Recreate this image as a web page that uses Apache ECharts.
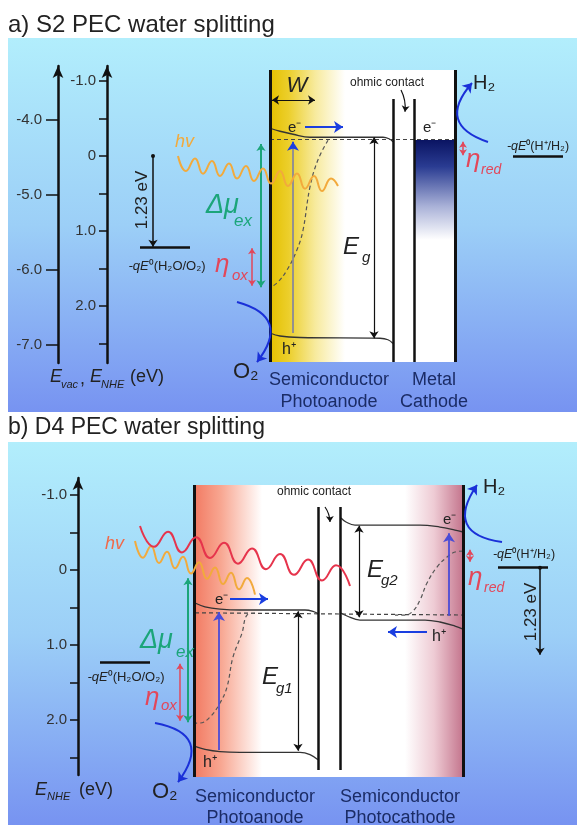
<!DOCTYPE html>
<html><head><meta charset="utf-8">
<script src="https://cdn.jsdelivr.net/npm/echarts@6/dist/echarts.min.js"></script>
<style>html,body{margin:0;padding:0;background:#fff}#c{width:577px;height:825px}</style>
</head><body><div id="c"></div>
<script>
// ===== Panel a (S2): energies in eV vs NHE; x = position along the diagram =====
const aNheTicks = [-1, -0.5, 0, 0.5, 1, 1.5, 2, 2.5];
const aNheLabels = [-1, 0, 1, 2];
const aVacLabels = [-4, -5, -6, -7];
const aBox = [-1.147, 2.747];          // top / bottom of device box
const aOhmicTop = -0.76;
const aMetalTop = -0.213;
const aCBx = [270, 280, 293, 310, 383, 389, 393];
const aCBe = [-0.37, -0.33, -0.29, -0.25, -0.25, -0.23, -0.19];
const aVBx = [270, 280, 300, 380, 388, 393];
const aVBe = [2.36, 2.40, 2.42, 2.43, 2.45, 2.50];
const aEF = -0.22;
const aQFx = [328, 318, 310, 303, 297, 287, 278, 271];
const aQFe = [-0.21, 0.05, 0.41, 0.99, 1.25, 1.52, 1.68, 1.75];
const aH2O = 1.21, aHH2 = 0.0;
const aEg = [-0.25, 2.43];
const aDmu = [-0.16, 1.75];
const aEtaOx = [1.23, 1.73];
const aEtaRed = [-0.19, -0.01];
const aGap = [0.0, 1.21];
const aExc = [2.36, -0.15];
const aWaveX = [178,186,195,203,212,220,229,237,246,254,263,271,280,288,297,305,314,322,331,338];
const aWaveE = [0.00,0.20,0.033,0.236,0.067,0.267,0.099,0.301,0.132,0.333,0.165,0.368,0.199,0.40,0.232,0.435,0.265,0.467,0.299,0.40];

// ===== Panel b (D4) =====
const bNheTicks = [-1, -0.5, 0, 0.5, 1, 1.5, 2, 2.5];
const bNheLabels = [-1, 0, 1, 2];
const bBox = [-1.133, 2.76];
const bOhmic = [-0.84, 2.667];
const bCB1x = [195, 205, 220, 240, 305, 313, 318];
const bCB1e = [0.44, 0.49, 0.52, 0.533, 0.533, 0.55, 0.58];
const bVB1x = [195, 205, 220, 240, 300, 310, 318];
const bVB1e = [2.35, 2.39, 2.42, 2.43, 2.43, 2.46, 2.53];
const bCB2x = [341, 346, 355, 420, 440, 455, 463];
const bCB2e = [-0.693, -0.64, -0.60, -0.60, -0.573, -0.533, -0.507];
const bVB2x = [341, 347, 360, 425, 440, 455, 463];
const bVB2e = [0.573, 0.613, 0.667, 0.667, 0.693, 0.747, 0.787];
const bEF = [0.57, 0.60];
const bQFpX = [255, 247, 242, 233, 227, 220, 210, 200, 196];
const bQFpE = [0.573, 0.60, 0.84, 1.16, 1.56, 1.773, 1.96, 2.04, 2.04];
const bQFnX = [463, 455, 447, 437, 427, 420, 413, 405, 395];
const bQFnE = [-0.253, -0.24, -0.173, -0.04, 0.173, 0.40, 0.547, 0.60, 0.60];
const bH2O = 1.227, bHH2 = -0.04;
const bEg1 = [0.55, 2.41];
const bEg2 = [-0.59, 0.63];
const bDmu = [0.11, 2.03];
const bEtaOx = [1.25, 2.01];
const bEtaRed = [-0.27, -0.11];
const bGap = [-0.03, 1.13];
const bExc1 = [2.40, 0.56];
const bExc2 = [0.61, -0.49];
const bRedX = [140,154,168,182,196,210,224,238,252,266,280,294,308,322,336,350];
const bRedE = [-0.587,-0.309,-0.512,-0.235,-0.437,-0.16,-0.363,-0.085,-0.288,-0.011,-0.213,0.064,-0.139,0.139,-0.064,0.213];
const bOrX = [135,143,151,159,167,175,183,191,199,207,215,223,231,239,247,255];
const bOrE = [-0.387,-0.165,-0.316,-0.095,-0.245,-0.024,-0.176,0.047,-0.105,0.117,-0.035,0.187,0.035,0.257,0.105,0.328];

const FF = '"Liberation Sans", Arial, sans-serif';
const BLUE = '#1a3ee0', GREEN = '#1ba57a', RED = '#e2475a', ORANGE = '#f2aa3c', WRED = '#e6344c', PURP = '#4b4bd6';

function pts(xs, es) { return xs.map((x, i) => [x, es[i]]); }
function yIdx(g) { return g === 0 ? 0 : 2; }
function curve(g, xs, es, color, width, dashed, smooth, z) {
  return { type: 'line', xAxisIndex: g, yAxisIndex: yIdx(g), data: pts(xs, es), symbol: 'none', smooth: smooth,
    clip: false, silent: true, z: z || 4, lineStyle: { color, width, type: dashed ? [4, 3] : 'solid' } };
}
function segs(g, list, color, width, sym, size, curveness, z) {
  return { type: 'lines', coordinateSystem: 'cartesian2d', xAxisIndex: g, yAxisIndex: yIdx(g),
    data: list.map(c => ({ coords: c })), symbol: sym || 'none', symbolSize: size || 8, clip: false, silent: true,
    z: z || 5, lineStyle: { color, width, opacity: 1, curveness: curveness || 0 } };
}
function rect(g, r, fill, z) {
  return { type: 'custom', xAxisIndex: g, yAxisIndex: yIdx(g), data: [r], clip: false, silent: true, z: z || 1,
    renderItem: (p, api) => {
      const a = api.coord([api.value(0), api.value(1)]), b = api.coord([api.value(2), api.value(3)]);
      return { type: 'rect', shape: { x: Math.min(a[0], b[0]), y: Math.min(a[1], b[1]), width: Math.abs(b[0] - a[0]), height: Math.abs(b[1] - a[1]) }, style: { fill } };
    } };
}
function hgrad(stops) { return { type: 'linear', x: 0, y: 0, x2: 1, y2: 0, colorStops: stops.map(s => ({ offset: s[0], color: s[1] })) }; }
function vgrad(stops) { return { type: 'linear', x: 0, y: 0, x2: 0, y2: 1, colorStops: stops.map(s => ({ offset: s[0], color: s[1] })) }; }
function T(x, y, text, size, color, opt) {
  opt = opt || {};
  return { type: 'text', x, y, z: 100, rotation: opt.rot || 0,
    style: { text, font: (opt.it ? 'italic ' : '') + size + 'px ' + FF, fill: color || '#222',
      textAlign: opt.al || 'left', textVerticalAlign: 'middle' } };
}
function Q(x, y, tail, size) {
  return { type: 'text', x, y, z: 100,
    style: { text: '{i|-qE}{n|⁰' + tail + '}', textAlign: 'center', textVerticalAlign: 'middle', fill: '#222',
      font: size + 'px ' + FF,
      rich: { i: { fontStyle: 'italic', fontSize: size, fontFamily: 'Liberation Sans', fill: '#222' }, n: { fontSize: size, fontFamily: 'Liberation Sans', fill: '#222' } } } };
}
function nheAxis(g, off, min, max, ticks, labels) {
  return { gridIndex: g, type: 'value', inverse: true, min, max, position: 'left', offset: off,
    axisLine: { show: true, symbol: ['none', 'arrow'], symbolSize: [8, 12], lineStyle: { color: '#111', width: 2.5 } },
    axisTick: { show: true, length: 8, customValues: ticks, lineStyle: { color: '#111', width: 1.5 } },
    axisLabel: { customValues: labels, margin: 11, color: '#333', fontSize: 15, fontFamily: 'Liberation Sans',
      formatter: v => (v === 0 ? '0' : v.toFixed(1)) },
    splitLine: { show: false } };
}

const chart = echarts.init(document.getElementById('c'));
const bg = [[0, '#b2eefc'], [0.5, '#9ccff7'], [1, '#7793f1']];
const series = [
  // ---- panel a fills
  rect(0, [270, aBox[0], 455, aBox[1]], '#ffffff', 1),
  rect(0, [270, aBox[0], 345, aBox[1]], hgrad([[0, '#e4c000'], [0.25, '#eccf2c'], [0.6, '#f7ea9c'], [1, '#ffffff']]), 1),
  rect(0, [414, aMetalTop, 455, aBox[1]], vgrad([[0, '#0a1462'], [0.12, '#2a3c92'], [0.3, '#aab2d8'], [0.45, '#ffffff'], [1, '#ffffff']]), 1),
  // ---- panel b fills
  rect(1, [194, bBox[0], 463, bBox[1]], '#ffffff', 1),
  rect(1, [194, bBox[0], 262, bBox[1]], hgrad([[0, '#f27a62'], [0.4, '#f8a792'], [1, '#ffffff']]), 1),
  rect(1, [405, bBox[0], 463, bBox[1]], hgrad([[0, '#ffffff'], [0.5, '#eecbd4'], [1, '#c4758d']]), 1),

  // ---- panel a bands
  curve(0, aCBx, aCBe, '#333', 1.3, false, 0.4),
  curve(0, aVBx, aVBe, '#333', 1.3, false, 0.4),
  curve(0, [270, 455], [aEF, aEF], '#444', 1.2, true, false),
  curve(0, aQFx, aQFe, '#555', 1.2, true, 0.4),
  curve(0, aWaveX, aWaveE, ORANGE, 2, false, 0.5, 6),
  // ---- panel b bands
  curve(1, bCB1x, bCB1e, '#333', 1.3, false, 0.4),
  curve(1, bVB1x, bVB1e, '#333', 1.3, false, 0.4),
  curve(1, bCB2x, bCB2e, '#333', 1.3, false, 0.4),
  curve(1, bVB2x, bVB2e, '#333', 1.3, false, 0.4),
  curve(1, [195, 463], bEF, '#444', 1.2, true, false),
  curve(1, bQFpX, bQFpE, '#555', 1.2, true, 0.4),
  curve(1, bQFnX, bQFnE, '#555', 1.2, true, 0.4),
  curve(1, bOrX, bOrE, ORANGE, 2, false, 0.5, 6),
  curve(1, bRedX, bRedE, WRED, 2, false, 0.5, 7),

  // ---- panel a structure lines / arrows
  segs(0, [[[270, aBox[0]], [270, aBox[1]]], [[455, aBox[0]], [455, aBox[1]]]], '#111', 3),
  segs(0, [[[393, aOhmicTop], [393, aBox[1]]], [[414, aOhmicTop], [414, aBox[1]]]], '#111', 2.5),
  segs(0, [[[140, aH2O], [190, aH2O]], [[513, aHH2], [563, aHH2]]], '#111', 2.5),
  segs(0, [[[374, aEg[0]], [374, aEg[1]]], [[272, -0.747], [315, -0.747]]], '#111', 1.2, ['arrow', 'arrow'], 7),
  segs(0, [[[153, aGap[0]], [153, aGap[1]]]], '#111', 1.5, ['circle', 'arrow'], [4, 7]),
  segs(0, [[[401, -0.88], [405, -0.59]]], '#111', 1.2, ['none', 'arrow'], 6, 0.15),
  segs(0, [[[261, aDmu[0]], [261, aDmu[1]]]], GREEN, 2, ['arrow', 'arrow'], 7),
  segs(0, [[[252, aEtaOx[0]], [252, aEtaOx[1]]], [[463, aEtaRed[0]], [463, aEtaRed[1]]]], RED, 1.5, ['arrow', 'arrow'], 6),
  segs(0, [[[293, aExc[0]], [293, aExc[1]]]], '#8a8a98', 1.8),
  segs(0, [[[293, -0.10], [293, -0.19]], [[305, -0.387], [343, -0.387]]], BLUE, 1.8, ['none', 'arrow'], 9),
  segs(0, [[[488, -0.187], [472, -0.973]], [[237, 1.947], [257, 2.747]]], '#1a30d8', 2, ['none', 'arrow'], 9, 0.75),

  // ---- panel b structure lines / arrows
  segs(1, [[[194, bBox[0]], [194, bBox[1]]], [[463, bBox[0]], [463, bBox[1]]]], '#111', 3),
  segs(1, [[[318, bOhmic[0]], [318, bOhmic[1]]], [[340, bOhmic[0]], [340, bOhmic[1]]]], '#111', 2.5),
  segs(1, [[[100, bH2O], [150, bH2O]], [[498, bHH2], [548, bHH2]]], '#111', 2.5),
  segs(1, [[[298, bEg1[0]], [298, bEg1[1]]], [[359, bEg2[0]], [359, bEg2[1]]]], '#111', 1.2, ['arrow', 'arrow'], 7),
  segs(1, [[[540, bGap[0]], [540, bGap[1]]]], '#111', 1.5, ['circle', 'arrow'], [4, 7]),
  segs(1, [[[325, -0.84], [330, -0.64]]], '#111', 1.2, ['none', 'arrow'], 6, 0.15),
  segs(1, [[[188, bDmu[0]], [188, bDmu[1]]]], GREEN, 2, ['arrow', 'arrow'], 7),
  segs(1, [[[180, bEtaOx[0]], [180, bEtaOx[1]]], [[470, bEtaRed[0]], [470, bEtaRed[1]]]], RED, 1.5, ['arrow', 'arrow'], 6),
  segs(1, [[[219, bExc1[0]], [219, bExc1[1]]], [[449, bExc2[0]], [449, bExc2[1]]]], PURP, 1.8, ['none', 'arrow'], 9),
  segs(1, [[[230, 0.387], [268, 0.387]], [[427, 0.827], [388, 0.827]]], BLUE, 1.8, ['none', 'arrow'], 9),
  segs(1, [[[502, -0.373], [477, -1.133]], [[155, 2.04], [178, 2.827]]], '#1a30d8', 2, ['none', 'arrow'], 9, 0.8)
];

const NAVY = '#1b2c66';
const texts = [
  { type: 'rect', z: -5, shape: { x: 8, y: 38, width: 569, height: 374 }, style: { fill: vgrad(bg) } },
  { type: 'rect', z: -5, shape: { x: 8, y: 442, width: 569, height: 383 }, style: { fill: vgrad(bg) } },
  T(8, 25, 'a) S2 PEC water splitting', 24, '#222'),
  T(8, 428, 'b) D4 PEC water splitting', 23, '#222'),
  // panel a
  T(50, 377, 'E', 18, '#222', { it: 1 }), T(61, 385, 'vac', 11, '#222', { it: 1 }), T(80, 379, ',', 18, '#222'),
  T(90, 377, 'E', 18, '#222', { it: 1 }), T(101, 385, 'NHE', 11, '#222', { it: 1 }), T(130, 377, '(eV)', 18, '#222'),
  T(142, 200, '1.23 eV', 17, '#222', { al: 'center', rot: Math.PI / 2 }),
  T(175, 142, 'hv', 18, ORANGE, { it: 1 }),
  T(206, 205, 'Δμ', 27, GREEN, { it: 1 }), T(234, 221, 'ex', 17, GREEN, { it: 1 }),
  Q(167, 266, '(H₂O/O₂)', 13),
  T(215, 265, 'η', 26, RED, { it: 1 }), T(232, 276, 'ox', 15, RED, { it: 1 }),
  T(297, 86, 'W', 22, '#222', { it: 1, al: 'center' }),
  T(387, 83, 'ohmic contact', 12, '#222', { al: 'center' }),
  T(288, 128, 'e⁻', 15, '#222'), T(423, 128, 'e⁻', 15, '#222'),
  T(473, 83, 'H₂', 20, '#222'),
  Q(538, 147, '(H⁺/H₂)', 12.5),
  T(466, 160, 'η', 26, RED, { it: 1 }), T(481, 170, 'red', 14, RED, { it: 1 }),
  T(343, 247, 'E', 24, '#222', { it: 1 }), T(362, 258, 'g', 15, '#222', { it: 1 }),
  T(282, 350, 'h⁺', 16, '#222'),
  T(233, 372, 'O₂', 22, '#222'),
  T(329, 380, 'Semiconductor', 18, NAVY, { al: 'center' }), T(329, 402, 'Photoanode', 18, NAVY, { al: 'center' }),
  T(434, 380, 'Metal', 18, NAVY, { al: 'center' }), T(434, 402, 'Cathode', 18, NAVY, { al: 'center' }),
  // panel b
  T(35, 790, 'E', 18, '#222', { it: 1 }), T(47, 797, 'NHE', 11, '#222', { it: 1 }), T(79, 790, '(eV)', 18, '#222'),
  T(105, 544, 'hv', 18, '#f06a4a', { it: 1 }),
  T(140, 640, 'Δμ', 27, GREEN, { it: 1 }), T(176, 652, 'ex', 17, GREEN, { it: 1 }),
  Q(126, 677, '(H₂O/O₂)', 13),
  T(145, 698, 'η', 26, RED, { it: 1 }), T(161, 706, 'ox', 15, RED, { it: 1 }),
  T(152, 792, 'O₂', 22, '#222'),
  T(203, 763, 'h⁺', 16, '#222'),
  T(215, 600, 'e⁻', 15, '#222'),
  T(262, 677, 'E', 24, '#222', { it: 1 }), T(276, 689, 'g1', 15, '#222', { it: 1 }),
  T(314, 492, 'ohmic contact', 12, '#222', { al: 'center' }),
  T(367, 570, 'E', 24, '#222', { it: 1 }), T(381, 581, 'g2', 15, '#222', { it: 1 }),
  T(443, 520, 'e⁻', 15, '#222'),
  T(432, 637, 'h⁺', 16, '#222'),
  T(483, 487, 'H₂', 20, '#222'),
  Q(524, 555, '(H⁺/H₂)', 12.5),
  T(468, 578, 'η', 26, RED, { it: 1 }), T(484, 588, 'red', 14, RED, { it: 1 }),
  T(531, 612, '1.23 eV', 17, '#222', { al: 'center', rot: Math.PI / 2 }),
  T(255, 797, 'Semiconductor', 18, NAVY, { al: 'center' }), T(255, 818, 'Photoanode', 18, NAVY, { al: 'center' }),
  T(400, 797, 'Semiconductor', 18, NAVY, { al: 'center' }), T(400, 818, 'Photocathode', 18, NAVY, { al: 'center' })
];

chart.setOption({
  animation: false,
  grid: [{ left: 0, right: 0, top: 66, height: 297 }, { left: 0, right: 0, top: 478, height: 297 }],
  xAxis: [{ gridIndex: 0, type: 'value', min: 0, max: 577, show: false }, { gridIndex: 1, type: 'value', min: 0, max: 577, show: false }],
  yAxis: [
    nheAxis(0, -107, -1.2, 2.76, aNheTicks, aNheLabels),
    { gridIndex: 0, type: 'value', min: -7.24, max: -3.28, position: 'left', offset: -58,
      axisLine: { show: true, symbol: ['none', 'arrow'], symbolSize: [8, 12], lineStyle: { color: '#111', width: 2.5 } },
      axisTick: { show: true, length: 12, customValues: aVacLabels, lineStyle: { color: '#111', width: 1.5 } },
      axisLabel: { customValues: aVacLabels, margin: 16, color: '#333', fontSize: 15, fontFamily: 'Liberation Sans', formatter: v => v.toFixed(1) },
      splitLine: { show: false } },
    nheAxis(1, -78, -1.227, 2.733, bNheTicks, bNheLabels)
  ],
  graphic: { elements: texts },
  series
});
</script></body></html>
